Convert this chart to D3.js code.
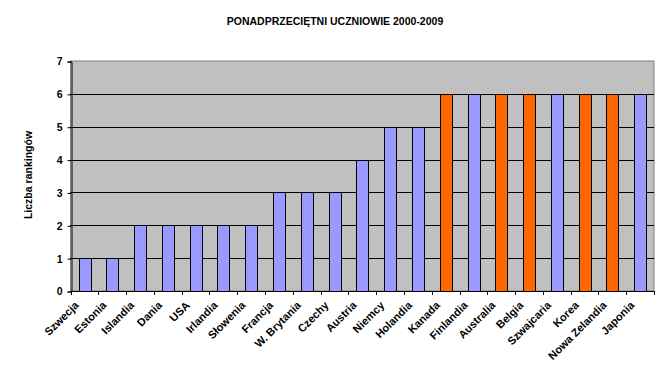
<!DOCTYPE html>
<html><head><meta charset="utf-8">
<script src="https://cdn.jsdelivr.net/npm/d3@7"></script>
<style>body{margin:0;background:#fff;}svg{display:block;font-family:"Liberation Sans",Arial,sans-serif;}</style>
</head><body><svg id="c" width="661" height="380"></svg>
<script>
const categories = ["Szwecja","Estonia","Islandia","Dania","USA","Irlandia","Słowenia","Francja","W. Brytania","Czechy","Austria","Niemcy","Holandia","Kanada","Finlandia","Australia","Belgia","Szwajcaria","Korea","Nowa Zelandia","Japonia"];
const values = [1,1,2,2,2,2,2,3,3,3,4,5,5,6,6,6,6,6,6,6,6];
const highlighted = ["Kanada","Australia","Belgia","Korea","Nowa Zelandia"];
const yTicks = [0,1,2,3,4,5,6,7];
const title = "PONADPRZECIĘTNI UCZNIOWIE 2000-2009";
const yTitle = "Liczba rankingów";

const svg = d3.select("#c");
const L = 70.5, R = 654, T = 61, B = 291;
const x = d3.scaleBand().domain(categories).range([L, R]).paddingInner(0.58).paddingOuter(0.29);
const y = d3.scaleLinear().domain([0, 7]).range([B, T]);

svg.append("rect").attr("x", L).attr("y", T).attr("width", R - L).attr("height", B - T)
  .attr("fill", "#c0c0c0").attr("stroke", "#808080").attr("stroke-width", 1);

svg.append("g").selectAll("line").data(yTicks.filter(d => d > 0 && d < 7)).join("line")
  .attr("x1", L).attr("x2", R).attr("y1", d => Math.round(y(d)) + 0.5).attr("y2", d => Math.round(y(d)) + 0.5)
  .attr("stroke", "#000").attr("stroke-width", 1);

svg.append("g").selectAll("rect").data(categories).join("rect")
  .attr("x", d => Math.round(x(d)) + 0.5)
  .attr("y", (d, i) => Math.round(y(values[i])) + 0.5)
  .attr("width", Math.round(x.bandwidth()))
  .attr("height", (d, i) => Math.round(y(0)) - Math.round(y(values[i])))
  .attr("fill", d => highlighted.includes(d) ? "#ff6600" : "#9999ff")
  .attr("stroke", "#000").attr("stroke-width", 1);

// y axis
const yAxis = d3.axisLeft(y).tickValues(yTicks).tickSize(4).tickFormat(d3.format("d"));
const gy = svg.append("g").attr("transform", `translate(${Math.round(L)+0.5},0.5)`).call(yAxis);
gy.select(".domain").attr("stroke", "#000");
gy.selectAll(".tick line").attr("stroke", "#000");
gy.selectAll(".tick text").attr("font-size", "10.5px").attr("font-weight", "bold").attr("fill", "#000").attr("x", -9);

// x axis with ticks at band boundaries
const bounds = d3.range(categories.length + 1).map(i => L + i * (R - L) / categories.length);
svg.append("line").attr("x1", L).attr("x2", R).attr("y1", B + 0.5).attr("y2", B + 0.5).attr("stroke", "#000");
svg.append("g").selectAll("line").data(bounds).join("line")
  .attr("x1", d => Math.round(d) + 0.5).attr("x2", d => Math.round(d) + 0.5)
  .attr("y1", B).attr("y2", B + 4).attr("stroke", "#000");

const lx = d => x(d) + x.bandwidth() / 2 - 5;
const ly = B + 15;
svg.append("g").selectAll("text").data(categories).join("text")
  .attr("x", d => lx(d))
  .attr("y", ly)
  .attr("transform", d => `rotate(-45 ${lx(d)} ${ly})`)
  .attr("text-anchor", "end").attr("font-size", "11px").attr("font-weight", "bold").attr("fill", "#000")
  .text(d => d);

svg.append("text").attr("x", 335).attr("y", 25).attr("text-anchor", "middle")
  .attr("font-size", "10.5px").attr("font-weight", "bold").attr("fill", "#000").text(title);

svg.append("text").attr("transform", "translate(32,175) rotate(-90)").attr("text-anchor", "middle")
  .attr("font-size", "10.5px").attr("font-weight", "bold").attr("fill", "#000").text(yTitle);
</script></body></html>
